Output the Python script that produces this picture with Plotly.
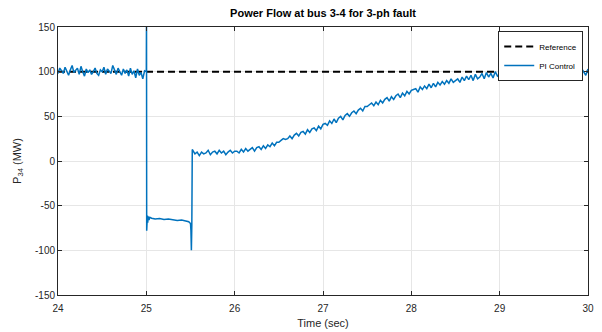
import numpy as np
import plotly.graph_objects as go

# ---- data ----
# pre-fault: t = 24.00 .. 24.98 step 0.02
t_pre = np.linspace(24.0, 24.98, 50)
p_pre = [98, 104, 101, 98, 105, 100, 96, 102, 107, 99,
         101, 104, 97, 106, 100, 95, 103, 99, 102, 97,
         100, 104, 98, 96, 102, 100, 105, 97, 103, 100,
         98, 107, 101, 97, 104, 100, 96, 103, 98, 102,
         95, 104, 97, 101, 93, 103, 96, 99, 92, 101]

# fault period
t_fault = [25.000, 25.002, 25.004, 25.006, 25.008, 25.012, 25.016, 25.02, 25.03,
           25.04, 25.06, 25.08, 25.10, 25.15, 25.20, 25.25, 25.30, 25.35, 25.40,
           25.45, 25.48, 25.50, 25.505, 25.51, 25.515, 25.52]
p_fault = [100, 170, -78, -58, -72, -61, -69, -62, -66,
           -63, -64, -64.5, -65, -64.5, -65.5, -65, -66, -66.5, -66,
           -67, -68, -70, -78, -100, -72, 13]

# post-fault recovery: t = 25.525 .. 30.0 step 0.025
t_post = np.linspace(25.525, 30.0, 180)
p_post = [12, 8, 10, 6, 10, 8, 9, 12, 7, 10, 11, 8, 12, 9, 11, 7, 10, 12, 9, 11,
          11, 9, 13, 10, 14, 11, 13, 15, 11, 15, 16, 13, 17, 14, 18, 16, 20, 17, 21, 21,
          23, 25, 24, 25, 28, 25, 29, 31, 28, 32, 33, 30, 35, 32, 36, 37, 34, 39, 36, 41,
          42, 40, 45, 42, 47, 43, 48, 50, 46, 51, 53, 50, 54, 56, 53, 57, 59, 56, 61, 61,
          63, 65, 62, 66, 63, 68, 65, 69, 71, 67, 72, 69, 73, 75, 71, 76, 73, 78, 75, 79,
          80, 81, 77, 83, 80, 84, 81, 86, 82, 87, 83, 88, 85, 89, 86, 90, 87, 92, 88, 90,
          92, 88, 94, 90, 95, 91, 96, 90, 97, 92, 94, 98, 92, 99, 94, 98, 93, 100, 95, 97,
          102, 95, 105, 97, 103, 94, 104, 98, 106, 96, 100, 104, 95, 101, 105, 97, 103, 96, 100, 104,
          97, 103, 95, 105, 99, 102, 96, 104, 100, 94, 103, 98, 105, 97, 102, 95, 104, 100, 96, 103]

t_ref = [24, 30]
p_ref = [100, 100]

x_ticks = [24, 25, 26, 27, 28, 29, 30]
y_ticks = [150, 100, 50, 0, -50, -100, -150]
y_ticktext = ["150", "100", "50", "0", "-50", "-100", "-150"]

t_all = list(t_pre) + t_fault + list(t_post)
p_all = p_pre + p_fault + p_post

FONT = "Liberation Sans, Arial, sans-serif"
AX = "#262626"

# the page body adds an 8px margin, so the figure is 8px smaller than the window
W, H = 594, 324
L, R, T, B = 50, 14, 19, 37

fig = go.Figure()
fig.add_trace(go.Scatter(x=t_ref, y=p_ref, mode="lines", name="Reference",
                         line=dict(color="black", width=2, dash="7px,4px")))
fig.add_trace(go.Scatter(x=t_all, y=p_all, mode="lines", name="PI Control",
                         line=dict(color="#0072BD", width=1.5)))

fig.update_layout(
    width=W, height=H,
    margin=dict(l=L, r=R, t=T, b=B),
    paper_bgcolor="white", plot_bgcolor="white",
    font=dict(family=FONT, size=10, color=AX),
    title=dict(text="<b>Power Flow at bus 3-4 for 3-ph fault</b>",
               x=(L + (W - L - R) / 2) / W, xanchor="center",
               y=1 - 5 / H, yanchor="middle",
               font=dict(size=11, color="black")),
    showlegend=True,
    legend=dict(x=0.991, xanchor="right", y=0.985, yanchor="top",
                bgcolor="white", bordercolor=AX, borderwidth=1,
                font=dict(size=8, color="black"), tracegroupgap=0,
                itemwidth=30),
)
fig.update_xaxes(range=[24, 30], tickvals=x_ticks, ticks="inside", ticklen=4,
                 tickcolor=AX, showline=True, linecolor=AX, linewidth=1, mirror="ticks",
                 showgrid=True, gridcolor="#e6e6e6", gridwidth=1, zeroline=False,
                 automargin=False, ticklabelstandoff=4,
                 title=dict(text="Time (sec)", font=dict(size=11), standoff=6))
fig.update_yaxes(range=[-150, 150], tickvals=y_ticks, ticktext=y_ticktext,
                 ticks="inside", ticklen=4, tickcolor=AX,
                 showline=True, linecolor=AX, linewidth=1, mirror="ticks",
                 showgrid=True, gridcolor="#e6e6e6", gridwidth=1, zeroline=False,
                 automargin=False,
                 title=dict(text="P<sub>34</sub> (MW)", font=dict(size=11), standoff=11))

fig.write_html("out.html")
